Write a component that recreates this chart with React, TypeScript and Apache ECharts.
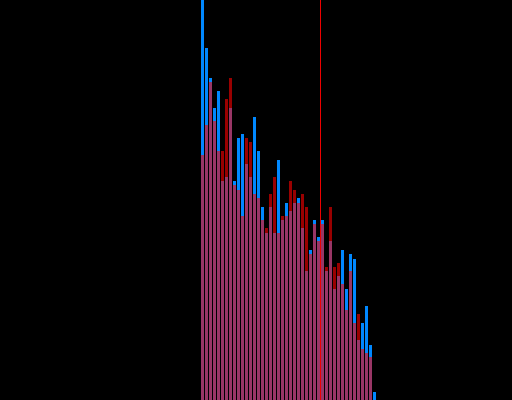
import React, { useEffect, useRef } from "react";
import * as echarts from "echarts";

const bins: number[] = Array.from({ length: 44 }, (_, i) => i);
const blueValues: number[] = [
  400, 352, 322, 292, 309, 219, 223, 292, 219, 262, 266, 236, 223, 283, 249,
  193, 167, 193, 167, 240, 180, 197, 189, 197, 202, 172, 129, 150, 180, 163,
  180, 129, 159, 111, 124, 150, 111, 146, 141, 60, 77, 94, 55, 8,
];
const redValues: number[] = [
  245, 275, 318, 279, 249, 249, 301, 322, 215, 210, 184, 262, 258, 206, 202,
  180, 172, 206, 223, 167, 184, 184, 219, 210, 197, 206, 193, 146, 176, 159,
  176, 133, 193, 133, 137, 116, 90, 129, 77, 86, 51, 47, 43, 0,
];
const markerValue = 29.5;

export default function App() {
  const ref = useRef<HTMLDivElement>(null);
  useEffect(() => {
    if (!ref.current) return;
    const chart = echarts.init(ref.current, undefined, { renderer: "svg" });
    chart.setOption({
      animation: false,
      backgroundColor: "#000000",
      grid: { left: 0, right: 0, top: 0, bottom: 0 },
      xAxis: { type: "value", min: -50.625, max: 77.375, show: false },
      yAxis: { type: "value", min: 0, max: 400, show: false },
      series: [
        {
          type: "bar",
          data: bins.map((b, i) => [b, blueValues[i]]),
          barWidth: 3,
          barGap: "-100%",
          itemStyle: { color: "#0088ff" },
        },
        {
          type: "bar",
          data: bins.map((b, i) => [b, redValues[i]]),
          barWidth: 3,
          barGap: "-100%",
          itemStyle: { color: "rgba(255,0,0,0.6)" },
          markLine: {
            silent: true,
            symbol: "none",
            label: { show: false },
            lineStyle: { color: "#ee0000", width: 1, type: "solid" },
            data: [{ xAxis: markerValue }],
          },
        },
      ],
    });
    return () => chart.dispose();
  }, []);
  return (
    <div
      ref={ref}
      style={{ position: "absolute", left: 0, top: 0, width: 512, height: 400 }}
    />
  );
}
